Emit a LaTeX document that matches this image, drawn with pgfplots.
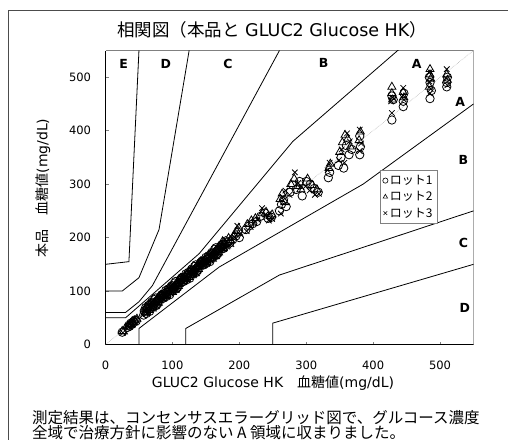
\documentclass[border=0pt]{standalone}
\usepackage{fontspec}
\setmainfont{DejaVu Sans}
\newfontfamily\jp{Noto Sans CJK JP}
\usepackage{pgfplots}
\usepackage{pgfplotstable}
\pgfplotsset{compat=1.18}

\pgfplotstableread{
x y
25 23
33 32
35 36
36 34
38 40
40 38
42 43
44 46
46 44
58 63
61 58
64 73
67 70
70 70
73 84
76 73
79 84
82 90
85 86
88 95
91 90
94 104
97 101
100 101
103 115
106 104
109 115
112 122
115 118
118 126
121 121
124 135
127 132
130 132
133 146
136 135
139 147
142 153
145 149
148 157
151 152
154 166
157 163
160 163
163 178
166 167
169 178
172 184
175 180
57 55
60 69
63 67
66 62
69 76
72 73
75 87
78 76
81 86
84 93
87 87
90 101
93 98
96 93
99 107
102 104
105 118
108 107
111 117
114 125
117 118
120 132
123 129
126 124
129 138
132 135
135 149
138 139
141 149
144 156
147 149
150 163
153 160
156 155
159 169
162 167
165 181
168 170
171 180
174 187
177 180
180 194
183 191
186 190
190 196
195 203
198 210
200 200
210 215
215 222
220 226
226 230
232 240
238 246
243 236
248 238
260 250
263 262
266 270
270 258
276 285
280 298
285 290
290 305
294 278
300 305
306 300
312 292
318 285
333 312
335 322
348 335
352 350
356 330
360 372
364 355
368 365
380 355
381 370
380 390
428 420
428 465
430 458
445 445
445 455
446 470
485 460
485 490
487 475
484 500
510 490
511 500
510 482
}\lotA

\pgfplotstableread{
x y
25 25
27 24
34 35
36 38
38 37
40 42
42 41
44 45
47 48
59 59
62 70
65 64
68 78
71 75
74 71
77 84
80 82
83 92
86 86
89 91
92 101
95 95
98 109
101 106
104 102
107 115
110 113
113 124
116 118
119 122
122 132
125 126
128 140
131 137
134 133
137 147
140 145
143 155
146 149
149 153
152 163
155 157
158 171
161 168
164 165
167 178
170 176
173 186
176 180
58 65
61 60
64 75
67 69
70 67
73 79
76 79
79 78
82 92
85 90
88 97
91 92
94 106
97 100
100 98
103 110
106 110
109 109
112 124
115 122
118 128
121 123
124 137
127 131
130 129
133 141
136 141
139 141
142 155
145 153
148 159
151 154
154 168
157 162
160 160
163 173
166 173
169 172
172 186
175 184
178 190
181 185
184 199
175 193
187 195
192 205
196 212
199 218
212 225
218 232
224 236
234 245
240 248
246 240
249 243
261 272
264 282
268 266
277 300
282 310
287 296
292 290
302 310
309 298
316 290
334 330
336 338
350 360
354 378
358 392
362 385
366 370
379 382
381 398
428 482
428 470
429 458
445 472
446 462
485 515
486 497
484 482
485 505
510 505
511 495
}\lotB

\pgfplotstableread{
x y
26 22
33 34
35 33
37 39
39 36
41 44
43 42
46 47
60 63
63 60
66 73
69 81
72 73
75 81
78 77
81 90
84 87
87 86
90 95
93 91
96 104
99 112
102 104
105 112
108 108
111 121
114 119
117 117
120 126
123 122
126 135
129 143
132 135
135 143
138 140
141 153
144 150
147 148
150 157
153 153
156 166
159 174
162 166
165 175
168 171
171 184
174 181
177 179
56 55
59 65
62 59
65 70
68 79
71 73
74 82
77 75
80 86
83 86
86 86
89 97
92 90
95 101
98 110
101 104
104 113
107 106
110 117
113 118
116 118
119 128
122 121
125 132
128 141
131 135
134 144
137 138
140 149
143 149
146 149
149 159
152 152
155 163
158 172
161 166
164 176
167 169
170 180
173 180
176 180
179 190
182 183
188 188
193 200
197 222
201 207
211 212
217 220
222 228
227 234
234 255
239 243
244 232
249 235
262 245
265 276
269 288
275 280
283 322
288 302
293 295
299 296
305 288
313 280
319 282
332 326
335 340
349 345
353 365
357 340
361 395
365 380
380 362
382 376
380 402
428 433
429 462
427 455
445 480
445 466
446 458
485 510
486 478
484 492
485 470
510 515
511 485
509 498
}\lotC

\begin{document}
\begin{tikzpicture}[x=1pt,y=1pt]
\useasboundingbox (0,0) rectangle (508,439);
\begin{scope}
\clip (0,0) rectangle (508,439);
\draw[line width=1.3pt, black!70] (8.5,428.5) rectangle (560,-40);
\end{scope}

\node[inner sep=0, font=\fontsize{17.5}{18}\selectfont] at (272,409) {{\jp 相関図（本品と} GLUC2 Glucose HK{\jp ）}};

\begin{axis}[
  at={(105.5pt,94.5pt)}, anchor=south west,
  scale only axis, width=368pt, height=294pt,
  xmin=0, xmax=550, ymin=0, ymax=550,
  axis lines=left,
  x axis line style={-, black, line width=1pt},
  y axis line style={-, black, line width=1.6pt},
  xtick={0,100,...,500}, ytick={0,100,...,500},
  tick align=inside, major tick length=3pt,
  tick style={black!50, line width=0.5pt},
  /pgf/number format/assume math mode=true,
  ticklabel style={font=\fontsize{11.5}{12}\selectfont},
  xticklabel style={yshift=-13pt},
  yticklabel style={xshift=-11pt},
  clip=true,
  legend style={at={(0.746,0.592)}, anchor=north west, draw=black!50, line width=0.5pt,
    font=\fontsize{12}{13}\selectfont, inner sep=2.5pt, row sep=1.5pt},
  legend cell align=left,
  legend image post style={mark size=2.6pt, line width=0.6pt},
]
% top and right frame
\draw[black!50, line width=0.6pt] (rel axis cs:0,1) -- (rel axis cs:1,1) -- (rel axis cs:1,0);
% y = x
\addplot[forget plot, black!35, densely dotted, line width=0.5pt] coordinates {(0,0) (550,550)};
% consensus error grid (type 1)
\addplot[forget plot, black, line width=0.8pt] coordinates {(0,50) (30,50) (140,170) (280,380) (5000,5500)};
\addplot[forget plot, black, line width=0.8pt] coordinates {(50,0) (50,30) (170,145) (385,300) (550,450)};
\addplot[forget plot, black, line width=0.8pt] coordinates {(0,60) (30,60) (50,80) (70,110) (260,550)};
\addplot[forget plot, black, line width=0.8pt] coordinates {(120,0) (120,30) (260,130) (550,250)};
\addplot[forget plot, black, line width=0.8pt] coordinates {(0,100) (25,100) (50,125) (80,215) (125,550)};
\addplot[forget plot, black, line width=0.8pt] coordinates {(250,0) (250,40) (550,150)};
\addplot[forget plot, black, line width=0.8pt] coordinates {(0,150) (35,155) (50,550)};

\addplot[only marks, mark=o, mark size=4.2pt, black, line width=0.8pt] table {\lotA};
\addlegendentry{{\jp ロット1}}
\addplot[only marks, mark=triangle, mark size=4.6pt, black, line width=0.8pt] table {\lotB};
\addlegendentry{{\jp ロット2}}
\addplot[only marks, mark=x, mark size=3.9pt, black, line width=0.8pt] table {\lotC};
\addlegendentry{{\jp ロット3}}

\begin{scope}[font=\bfseries\fontsize{12.5}{13}\selectfont]
\node at (axis cs:27,524) {E};
\node at (axis cs:90,524) {D};
\node at (axis cs:183,524) {C};
\node at (axis cs:326,526) {B};
\node at (axis cs:465,524) {A};
\node at (axis cs:530,453) {A};
\node at (axis cs:535,346) {B};
\node at (axis cs:535,190) {C};
\node at (axis cs:537,69) {D};
\end{scope}
\end{axis}

\node[inner sep=0, font=\fontsize{14}{14}\selectfont] at (273,56) {GLUC2 Glucose HK{\jp 　血糖値}(mg/dL)};
\node[inner sep=0, rotate=90, font=\fontsize{14}{14}\selectfont] at (43,251) {{\jp 本品　血糖値}(mg/dL)};

\node[anchor=base west, inner sep=0, font=\jp\fontsize{15.5}{16}\selectfont] at (32,16) {測定結果は、コンセンサスエラーグリッド図で、グルコース濃度};
\node[anchor=base west, inner sep=0, font=\jp\fontsize{15.5}{16}\selectfont] at (32,1) {全域で治療方針に影響のない A 領域に収まりました。};
\end{tikzpicture}
\end{document}
